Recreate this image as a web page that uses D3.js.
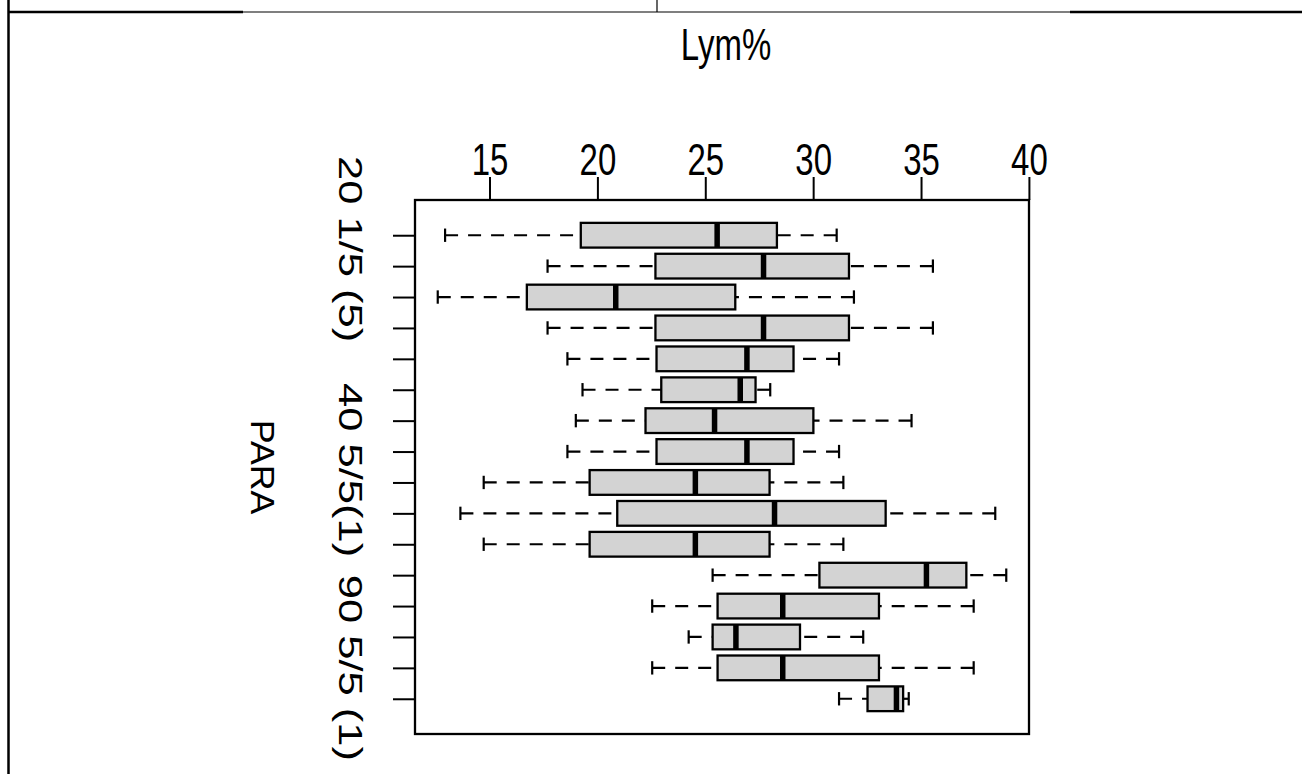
<!DOCTYPE html>
<html>
<head>
<meta charset="utf-8">
<script src="https://cdn.jsdelivr.net/npm/d3@7"></script>
<style>
  body { margin: 0; background: #fff; }
  svg text { font-family: "Liberation Sans", Arial, sans-serif; fill: #000; }
</style>
</head>
<body>
<svg id="chart" width="1302" height="774"></svg>
<script>
// PARA groups, top row first
const groups = d3.range(1, 17);

// five-number summaries (Lym%)
const lowWhisker  = [12.94, 17.69, 12.60, 17.69, 18.61, 19.31, 19.00, 18.61, 14.73, 13.65, 14.73, 25.34, 22.54, 24.23, 22.54, 31.20];
const lowerQuart  = [19.23, 22.69, 16.73, 22.69, 22.74, 22.96, 22.23, 22.74, 19.64, 20.92, 19.64, 30.29, 25.57, 25.34, 25.57, 32.52];
const medians     = [25.55, 27.70, 20.85, 27.70, 26.93, 26.62, 25.43, 26.93, 24.54, 28.21, 24.54, 35.25, 28.59, 26.42, 28.59, 33.86];
const upperQuart  = [28.32, 31.66, 26.39, 31.66, 29.09, 27.33, 30.01, 29.09, 27.98, 33.36, 27.98, 37.10, 33.05, 29.39, 33.05, 34.17];
const highWhisker = [31.09, 35.55, 31.89, 35.55, 31.20, 28.01, 34.56, 31.20, 31.40, 38.44, 31.40, 38.95, 37.44, 32.32, 37.44, 34.43];

const xTicks = [15, 20, 25, 30, 35, 40];
// where the group names sit along the axis (in group units)
const groupLabels = [
    { at: 1.45, text: '20 1/5 (5)' },
    { at: 8.6,  text: '40 5/5(1)' },
    { at: 15.0, text: '90 5/5 (1)' }
];

const stretch = 1.32;   // the picture is taller than wide, text gets stretched too
const fs = 33;

const svg = d3.select('#chart');

// R style 4% padding on both ranges
const pad = (lo, hi) => { const r = hi - lo; return [lo - 0.04 * r, hi + 0.04 * r]; };

const x = d3.scaleLinear()
    .domain(pad(d3.min(lowWhisker), d3.max(highWhisker)))
    .range([415, 1029]);

const y = d3.scaleLinear()
    .domain(pad(0.5, groups.length + 0.5))
    .range([200, 734]);

const boxH = 0.8 * (y(2) - y(1));
const capH = boxH / 2 + 1;

// page frame lines (table cell around the figure)
const frame = svg.append('g').attr('stroke', '#000');
frame.append('line').attr('x1', 8.5).attr('x2', 8.5).attr('y1', 0).attr('y2', 774).attr('stroke-width', 2.5);
frame.append('line').attr('x1', 8).attr('x2', 243).attr('y1', 12).attr('y2', 12).attr('stroke-width', 2.5);
frame.append('line').attr('x1', 243).attr('x2', 1070).attr('y1', 12).attr('y2', 12).attr('stroke-width', 1.2);
frame.append('line').attr('x1', 1070).attr('x2', 1302).attr('y1', 12).attr('y2', 12).attr('stroke-width', 2.5);
frame.append('line').attr('x1', 657).attr('x2', 657).attr('y1', 0).attr('y2', 12).attr('stroke-width', 1.2);

// top axis
const xAxis = svg.append('g')
    .attr('transform', `translate(0,${y.range()[0]})`)
    .call(d3.axisTop(x).tickValues(xTicks).tickSize(23).tickSizeOuter(0));
xAxis.select('.domain').remove();
xAxis.selectAll('line').attr('stroke', '#000').attr('stroke-width', 2);
xAxis.selectAll('text')
    .attr('y', null).attr('dy', null)
    .attr('transform', `translate(0,-25) scale(1,${stretch})`)
    .style('font-size', fs + 'px')
    .attr('font-family', null);

// left axis ticks, labels drawn separately
const yAxis = svg.append('g')
    .attr('transform', `translate(${x.range()[0]},0)`)
    .call(d3.axisLeft(y).tickValues(groups).tickSize(22).tickSizeOuter(0).tickFormat(''));
yAxis.select('.domain').remove();
yAxis.selectAll('line').attr('stroke', '#000').attr('stroke-width', 2);

svg.append('g').selectAll('text')
    .data(groupLabels)
    .enter()
    .append('text')
    .attr('transform', d => `translate(339,${y(d.at)}) scale(1,${stretch}) rotate(90)`)
    .style('text-anchor', 'middle')
    .style('font-size', fs + 'px')
    .text(d => d.text);

// axis titles
svg.append('text')
    .attr('transform', `translate(726,60) scale(1,${stretch})`)
    .style('text-anchor', 'middle')
    .style('font-size', fs + 'px')
    .text('Lym%');

svg.append('text')
    .attr('transform', `translate(251,${(y.range()[0] + y.range()[1]) / 2}) scale(1,1.05) rotate(90)`)
    .style('text-anchor', 'middle')
    .style('font-size', '34px')
    .text('PARA');

// boxes
const box = svg.append('g').selectAll('.box')
    .data(groups)
    .enter()
    .append('g')
    .attr('class', 'box')
    .attr('transform', g => `translate(0,${y(g)})`);

// whiskers are drawn from the whisker end toward the box, like R does
box.append('line')
    .attr('x1', (g, i) => x(lowWhisker[i]))
    .attr('x2', (g, i) => x(lowerQuart[i]))
    .attr('stroke', '#000').attr('stroke-width', 2.2).attr('stroke-dasharray', '13,10');
box.append('line')
    .attr('x1', (g, i) => x(highWhisker[i]))
    .attr('x2', (g, i) => x(upperQuart[i]))
    .attr('stroke', '#000').attr('stroke-width', 2.2).attr('stroke-dasharray', '13,10');

box.append('line')
    .attr('x1', (g, i) => x(lowWhisker[i])).attr('x2', (g, i) => x(lowWhisker[i]))
    .attr('y1', -capH / 2).attr('y2', capH / 2)
    .attr('stroke', '#000').attr('stroke-width', 2.2);
box.append('line')
    .attr('x1', (g, i) => x(highWhisker[i])).attr('x2', (g, i) => x(highWhisker[i]))
    .attr('y1', -capH / 2).attr('y2', capH / 2)
    .attr('stroke', '#000').attr('stroke-width', 2.2);

box.append('rect')
    .attr('x', (g, i) => x(lowerQuart[i]))
    .attr('width', (g, i) => x(upperQuart[i]) - x(lowerQuart[i]))
    .attr('y', -boxH / 2)
    .attr('height', boxH)
    .attr('fill', '#d3d3d3')
    .attr('stroke', '#000')
    .attr('stroke-width', 2.3);

box.append('line')
    .attr('x1', (g, i) => x(medians[i])).attr('x2', (g, i) => x(medians[i]))
    .attr('y1', -boxH / 2).attr('y2', boxH / 2)
    .attr('stroke', '#000').attr('stroke-width', 5.5);

// plot frame
svg.append('rect')
    .attr('x', x.range()[0]).attr('y', y.range()[0])
    .attr('width', x.range()[1] - x.range()[0])
    .attr('height', y.range()[1] - y.range()[0])
    .attr('fill', 'none')
    .attr('stroke', '#000')
    .attr('stroke-width', 2.3);
</script>
</body>
</html>
